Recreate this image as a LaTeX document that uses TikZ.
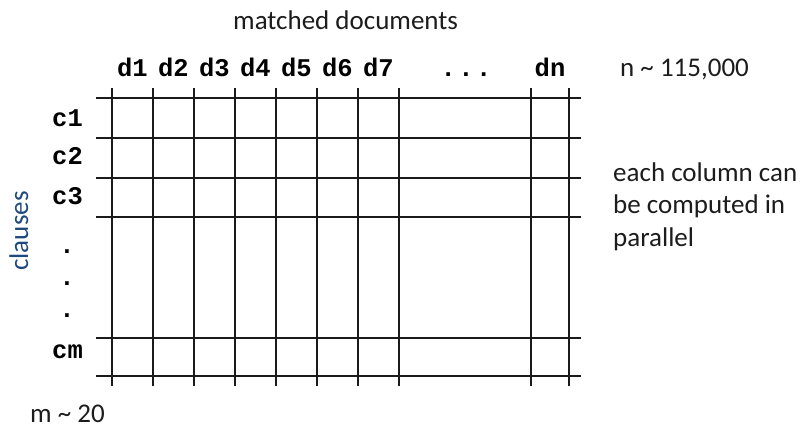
\documentclass[tikz,border=0pt]{standalone}
\usepackage{fontspec}
\setmainfont{Carlito}
\setmonofont{Liberation Mono}
\usepackage{xcolor}
\usetikzlibrary{positioning}

\definecolor{gridgray}{HTML}{1A1A1A}
\definecolor{textdark}{HTML}{1C1C1C}
\definecolor{clauseblue}{HTML}{1F497D}

\tikzset{
  gridline/.style={line width=1.6pt, draw=gridgray},
  sidetext/.style={font=\fontsize{27}{32.7}\selectfont, text=textdark, inner sep=0pt},
  idlabel/.style={font=\fontsize{25.5}{30}\selectfont\ttfamily\bfseries, text=black, inner sep=0pt, anchor=base},
}

\begin{document}
\begin{tikzpicture}[x=1pt, y=-1pt]
    \useasboundingbox (0,0) rectangle (807,429);

    % Lưới ma trận
    \foreach \x in {112,153,194,235,276,317,358,399,531,569} {
         \draw[gridline] (\x,88) -- (\x,386);
    }
    \foreach \y in {98,138,178,217,338,376} {
          \draw[gridline] (96,\y) -- (581,\y);
    }

    % Nhãn cột
    \foreach \x [count=\i] in {132.5,173.5,214.5,255.5,296.5,337.5,378.5} {
         \node[idlabel] (d\i) at (\x,76) {d\i};
    }
    \node[idlabel] (ddots) at (466,76) {.\kern2.5pt.\kern2.5pt.};
    \node[idlabel] (dn) at (550,76) {dn};

    % Nhãn hàng
    \foreach \y [count=\i] in {126,164,204} {
         \node[idlabel, anchor=base west] (c\i) at (52,\y) {c\i};
    }
    \foreach \y [count=\i] in {253,285,317} {
         \node[idlabel] (cdot\i) at (67,\y) {.};
    }
    \node[idlabel, anchor=base west] (cm) at (52,358) {cm};

    % Chú thích
    \node[sidetext, anchor=base west] (title) at (233,29) {matched documents};
    \node[sidetext, text=clauseblue, rotate=90, anchor=base] (clauses) at (28,231) {clauses};
    \node[sidetext, anchor=base west] (ncount) at (620,76) {n \textasciitilde{} 115,000};
    \node[sidetext, anchor=base west] (mcount) at (30,422) {m \textasciitilde{} 20};
    \node[sidetext, anchor=base west, align=left] (note) at (613,246.4)
        {each column can\\be computed in\\parallel};

\end{tikzpicture}
\end{document}
